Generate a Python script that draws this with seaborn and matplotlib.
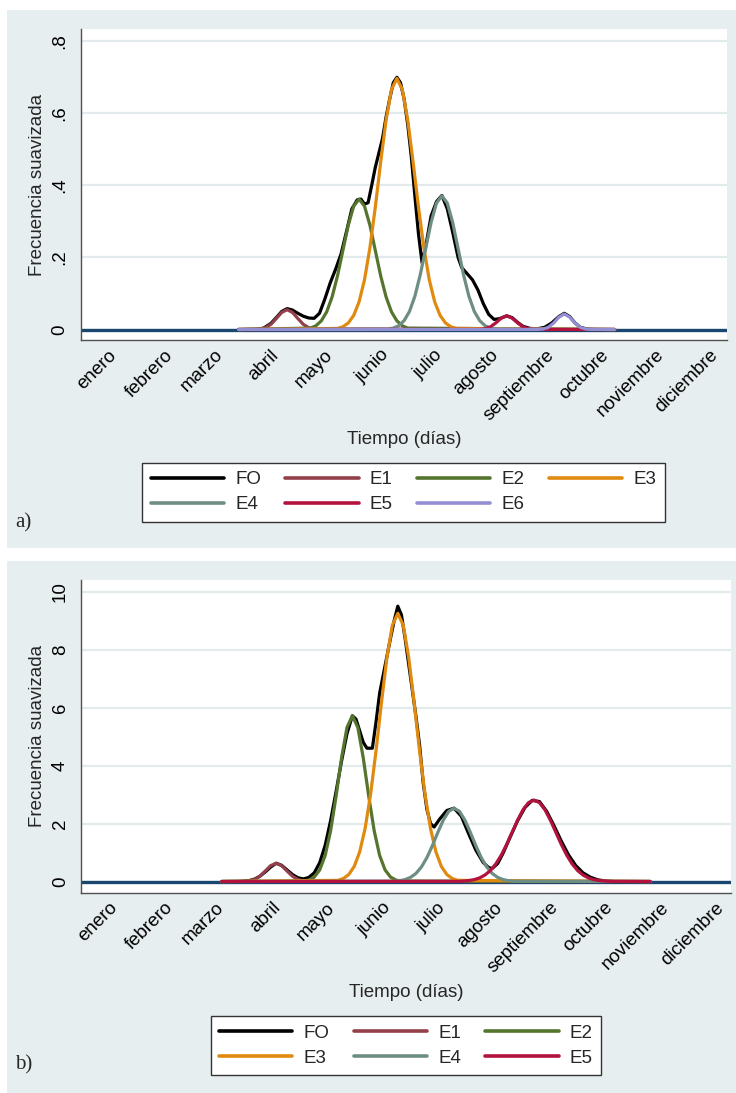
import matplotlib
matplotlib.use("Agg")
import matplotlib.pyplot as plt
from matplotlib.patches import Rectangle
import seaborn as sns

sns.set_style("white")
plt.rcParams["font.family"] = ["Liberation Sans", "DejaVu Sans"]

# ---------------- data ----------------
MONTH_LABELS = ["enero", "febrero", "marzo", "abril", "mayo", "junio", "julio",
                "agosto", "septiembre", "octubre", "noviembre", "diciembre"]
MONTH_START_DAYS = [1, 32, 60, 91, 121, 152, 182, 213, 244, 274, 305, 335]

A_YTICKS = [0, 0.2, 0.4, 0.6, 0.8]
A_YTICKLABELS = ["0", ".2", ".4", ".6", ".8"]
B_YTICKS = [0, 2, 4, 6, 8, 10]
B_YTICKLABELS = ["0", "2", "4", "6", "8", "10"]

# Panel a) -- observed smoothed frequency (FO)
A_FO_DAYS = [70, 80, 84, 88, 91, 94, 97, 100, 103, 106, 109, 112, 115, 118, 121, 124,
             127, 130, 133, 136, 138, 140, 142, 144, 146, 148, 150, 152, 154, 156, 158,
             160, 162, 164, 166, 168, 170, 172, 174, 177, 180, 183, 186, 189, 192, 194,
             197, 200, 203, 206, 209, 212, 215, 219, 222, 225, 228, 232, 236, 240, 244,
             248, 251, 254, 257, 260, 264, 268, 279]
A_FO_VALS = [0, 0, 0.004, 0.017, 0.033, 0.050, 0.058, 0.054, 0.045, 0.037, 0.032, 0.031,
             0.045, 0.085, 0.130, 0.168, 0.210, 0.272, 0.335, 0.360, 0.362, 0.348, 0.352,
             0.400, 0.450, 0.490, 0.530, 0.590, 0.640, 0.685, 0.700, 0.685, 0.640, 0.570,
             0.480, 0.370, 0.265, 0.185, 0.230, 0.315, 0.355, 0.372, 0.335, 0.270, 0.200,
             0.172, 0.155, 0.138, 0.110, 0.072, 0.042, 0.028, 0.030, 0.038, 0.033, 0.020,
             0.009, 0.003, 0.002, 0.006, 0.018, 0.036, 0.045, 0.036, 0.018, 0.006, 0.001,
             0, 0]

# Panel a) -- estimated components E1..E6
A_E1_DAYS = [70] + list(range(82, 113, 3)) + [279]
A_E1_VALS = [0, 0.0013, 0.0051, 0.0143, 0.0304, 0.0474, 0.055, 0.0474, 0.0304, 0.0143,
             0.0051, 0.0013, 0]
A_E2_DAYS = [70] + list(range(110, 165, 3)) + [279]
A_E2_VALS = [0, 0.0040, 0.0103, 0.0240, 0.0490, 0.0903, 0.1488, 0.2196, 0.2899, 0.3425,
             0.362, 0.3425, 0.2899, 0.2196, 0.1488, 0.0903, 0.0490, 0.0240, 0.0103,
             0.0040, 0]
A_E3_DAYS = [70] + list(range(125, 192, 3)) + [279]
A_E3_VALS = [0, 0.0030, 0.0077, 0.0182, 0.0391, 0.0769, 0.1379, 0.2263, 0.3393, 0.4649,
             0.5822, 0.6663, 0.697, 0.6663, 0.5822, 0.4649, 0.3393, 0.2263, 0.1379,
             0.0769, 0.0391, 0.0182, 0.0077, 0.0030, 0]
A_E4_DAYS = [70] + list(range(153, 214, 3)) + [279]
A_E4_VALS = [0, 0.0014, 0.0041, 0.0105, 0.0246, 0.0502, 0.0925, 0.1525, 0.2250, 0.2971,
             0.351, 0.371, 0.351, 0.2971, 0.2250, 0.1525, 0.0925, 0.0502, 0.0246, 0.0105,
             0.0041, 0.0014, 0]
A_E5_DAYS = [70] + list(range(204, 235, 3)) + [279]
A_E5_VALS = [0, 0.0004, 0.0021, 0.0075, 0.0185, 0.0317, 0.038, 0.0317, 0.0185, 0.0075,
             0.0021, 0.0004, 0]
A_E6_DAYS = [70] + list(range(236, 267, 3)) + [279]
A_E6_VALS = [0, 0.0002, 0.0012, 0.0058, 0.0177, 0.0344, 0.043, 0.0344, 0.0177, 0.0058,
             0.0012, 0.0002, 0]

# Panel b) -- observed smoothed frequency (FO)
B_FO_DAYS = [60, 70, 75, 78, 81, 84, 87, 90, 93, 96, 99, 102, 105, 108, 111, 114, 117,
             120, 123, 126, 129, 132, 134, 136, 138, 140, 143, 145, 147, 150, 153, 155,
             157, 159, 161, 163, 165, 167, 169, 171, 173, 175, 177, 180, 184, 188, 192,
             196, 200, 204, 207, 209, 212, 215, 219, 223, 227, 231, 235, 239, 243, 247,
             251, 255, 259, 263, 267, 271, 276, 296]
B_FO_VALS = [0, 0.005, 0.03, 0.08, 0.18, 0.33, 0.50, 0.63, 0.56, 0.40, 0.24, 0.13, 0.09,
             0.14, 0.30, 0.65, 1.25, 2.10, 3.10, 4.15, 5.10, 5.72, 5.60, 5.20, 4.80, 4.60,
             4.60, 5.50, 6.50, 7.45, 8.40, 9.00, 9.50, 9.20, 8.40, 7.50, 6.60, 5.70, 4.70,
             3.40, 2.50, 2.00, 1.88, 2.15, 2.45, 2.53, 2.25, 1.65, 1.08, 0.66, 0.48, 0.45,
             0.62, 0.98, 1.55, 2.10, 2.55, 2.80, 2.76, 2.42, 1.93, 1.40, 0.92, 0.55, 0.30,
             0.15, 0.06, 0.02, 0, 0]

# Panel b) -- estimated components E1..E5
B_E1_DAYS = [60] + list(range(72, 109, 3)) + [296]
B_E1_VALS = [0, 0.0043, 0.0197, 0.0687, 0.181, 0.362, 0.549, 0.63, 0.549, 0.362, 0.181,
             0.0687, 0.0197, 0.0043, 0]
B_E2_DAYS = [60] + list(range(105, 160, 3)) + [296]
B_E2_VALS = [0, 0.014, 0.050, 0.153, 0.399, 0.898, 1.750, 2.940, 4.256, 5.314, 5.72,
             5.314, 4.256, 2.940, 1.750, 0.898, 0.399, 0.153, 0.050, 0.014, 0]
B_E3_DAYS = [60] + list(range(124, 191, 3)) + [296]
B_E3_VALS = [0, 0.040, 0.103, 0.241, 0.519, 1.020, 1.831, 3.003, 4.503, 6.170, 7.727,
             8.843, 9.25, 8.843, 7.727, 6.170, 4.503, 3.003, 1.831, 1.020, 0.519, 0.241,
             0.103, 0.040, 0]
B_E4_DAYS = [60] + list(range(155, 222, 3)) + [296]
B_E4_VALS = [0, 0.011, 0.028, 0.066, 0.142, 0.279, 0.501, 0.821, 1.232, 1.688, 2.113,
             2.419, 2.53, 2.419, 2.113, 1.688, 1.232, 0.821, 0.501, 0.279, 0.142, 0.066,
             0.028, 0.011, 0]
B_E5_DAYS = [60] + list(range(190, 275, 3)) + [296]
B_E5_VALS = [0, 0.006, 0.014, 0.031, 0.064, 0.123, 0.224, 0.380, 0.608, 0.912, 1.286,
             1.704, 2.121, 2.480, 2.723, 2.81, 2.723, 2.480, 2.121, 1.704, 1.286, 0.912,
             0.608, 0.380, 0.224, 0.123, 0.064, 0.031, 0.014, 0.006, 0]

# ---------------- style ----------------
W, H = 736, 1093
BG = "#e7eef0"
GRID = "#e2eaec"
AXC = "#505050"
NAVY = "#1a476f"
COLORS = {"FO": "#000000", "E1": "#93404a", "E2": "#55752f", "E3": "#e08a10",
          "E4": "#6e8e84", "E5": "#b3123f", "E6": "#938dd2"}
FS = 13.5

fig = plt.figure(figsize=(W / 100, H / 100), dpi=100)
fig.patch.set_facecolor("white")

# gray graph regions
fig.add_artist(Rectangle((7 / W, 1 - 548 / H), 1, (548 - 10) / H, transform=fig.transFigure,
                         facecolor=BG, edgecolor="none", zorder=-5))
fig.add_artist(Rectangle((7 / W, 0), 1, 1 - 561 / H, transform=fig.transFigure,
                         facecolor=BG, edgecolor="none", zorder=-5))


def px_axes(left, top, right, bottom):
    return [left / W, 1 - bottom / H, (right - left) / W, (bottom - top) / H]


def draw_panel(ax, series, xlim, ylim, yticks, yticklabels, xlabel_y, ylabel_x,
               legend_center, ncol, legend_order):
    ax.set_facecolor("white")
    ax.axhline(0, color=NAVY, lw=2.4, zorder=1.5)
    for name, days, vals in series:
        sns.lineplot(x=days, y=vals, ax=ax, color=COLORS[name], linewidth=2.3,
                     label=name, sort=False, estimator=None, zorder=2)
    ax.set_xlim(*xlim)
    ax.set_ylim(*ylim)
    ax.set_yticks(yticks)
    ax.set_yticklabels(yticklabels, rotation=90, va="center", fontsize=FS)
    ax.set_xticks(MONTH_START_DAYS)
    ax.set_xticklabels(MONTH_LABELS, rotation=45, ha="right", va="center",
                       rotation_mode="anchor", fontsize=FS)
    ax.grid(axis="y", color=GRID, lw=1.6, zorder=0)
    ax.grid(axis="x", visible=False)
    ax.set_axisbelow(True)
    for s in ["top", "right"]:
        ax.spines[s].set_visible(False)
    for s in ["left", "bottom"]:
        ax.spines[s].set_color(AXC)
        ax.spines[s].set_linewidth(1.0)
    ax.tick_params(axis="both", direction="out", length=6, width=1, color=AXC,
                   labelcolor="black")
    ax.tick_params(axis="y", pad=3)
    ax.tick_params(axis="x", pad=3)
    ax.set_xlabel("Tiempo (días)", fontsize=FS, va="center")
    ax.xaxis.set_label_coords(0.5, xlabel_y)
    ax.set_ylabel("Frecuencia suavizada", fontsize=FS, va="center")
    ax.yaxis.set_label_coords(ylabel_x, 0.5)
    handles, labels = ax.get_legend_handles_labels()
    lookup = dict(zip(labels, handles))
    leg = ax.legend([lookup[n] for n in legend_order], legend_order, loc="center",
                    ncol=ncol, bbox_to_anchor=legend_center,
                    bbox_transform=fig.transFigure, fontsize=FS, frameon=True,
                    fancybox=False, shadow=False, framealpha=1, edgecolor="#333333",
                    handlelength=3.9, handletextpad=0.6, columnspacing=1.3,
                    labelspacing=0.42, borderpad=0.45)
    leg.get_frame().set_linewidth(1.0)
    for ln in leg.get_lines():
        ln.set_linewidth(2.6)


axA = fig.add_axes(px_axes(81, 29, 727, 340))
seriesA = [("FO", A_FO_DAYS, A_FO_VALS), ("E1", A_E1_DAYS, A_E1_VALS),
           ("E2", A_E2_DAYS, A_E2_VALS), ("E3", A_E3_DAYS, A_E3_VALS),
           ("E4", A_E4_DAYS, A_E4_VALS), ("E5", A_E5_DAYS, A_E5_VALS),
           ("E6", A_E6_DAYS, A_E6_VALS)]
# column-major order so the legend reads row by row: FO E1 E2 E3 / E4 E5 E6
draw_panel(axA, seriesA, (-17.5, 341.4), (-0.0291, 0.8341), A_YTICKS, A_YTICKLABELS,
           -100 / 311, -44 / 646, (403.5 / W, 1 - 492 / H), 4,
           ["FO", "E4", "E1", "E5", "E2", "E6", "E3"])

axB = fig.add_axes(px_axes(81.3, 580, 731, 892.7))
seriesB = [("FO", B_FO_DAYS, B_FO_VALS), ("E1", B_E1_DAYS, B_E1_VALS),
           ("E2", B_E2_DAYS, B_E2_VALS), ("E3", B_E3_DAYS, B_E3_VALS),
           ("E4", B_E4_DAYS, B_E4_VALS), ("E5", B_E5_DAYS, B_E5_VALS)]
draw_panel(axB, seriesB, (-17.3, 340.5), (-0.386, 10.404), B_YTICKS, B_YTICKLABELS,
           -99.3 / 312.7, -44.3 / 650, (406 / W, 1 - 1045.5 / H), 3,
           ["FO", "E3", "E1", "E4", "E2", "E5"])

fig.text(15 / W, 1 - 523 / H, "a)", fontsize=15, family=["Liberation Serif", "DejaVu Serif"],
         ha="left", va="center")
fig.text(15 / W, 1 - 1065 / H, "b)", fontsize=15, family=["Liberation Serif", "DejaVu Serif"],
         ha="left", va="center")

fig.savefig("out.png", dpi=100, facecolor="white")
